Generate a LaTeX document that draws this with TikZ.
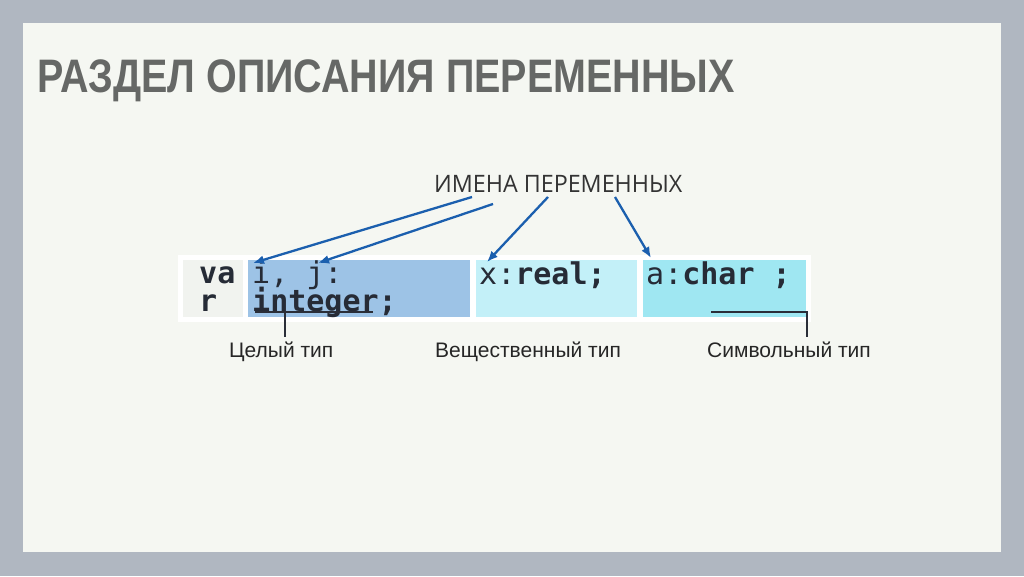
\documentclass[tikz,border=0pt]{standalone}
\usepackage{fontspec}
\usepackage{graphicx}
\setmainfont{Liberation Sans}
\newfontfamily\codefont{DejaVu Sans Mono}
\newfontfamily\labfont{Open Sans}
\usetikzlibrary{arrows.meta}
\definecolor{outerbg}{HTML}{B0B7C1}
\definecolor{panelbg}{HTML}{F5F7F2}
\definecolor{titlegray}{HTML}{666866}
\definecolor{varcell}{HTML}{F1F3EF}
\definecolor{intcell}{HTML}{9DC3E6}
\definecolor{realcell}{HTML}{C3F0F8}
\definecolor{charcell}{HTML}{9FE7F2}
\definecolor{codetext}{HTML}{262B36}
\definecolor{arrowblue}{HTML}{1B5FAE}
\definecolor{linedark}{HTML}{2A2E38}
\begin{document}
\begin{tikzpicture}[x=1pt,y=-1pt,
  code/.style={inner sep=0pt,anchor=base west,font=\codefont\fontsize{30}{30}\selectfont,text=codetext},
  boldcode/.style={code,font=\codefont\bfseries\fontsize{30}{30}\selectfont},
  lab/.style={inner sep=0pt,anchor=base west,font=\fontsize{21}{21}\selectfont,text=black!85},
  namearrow/.style={draw=arrowblue,line width=2.3pt,-{Latex[length=11pt,width=9pt]}},
  typeline/.style={draw=linedark,line width=1.3pt}]
\useasboundingbox (0,0) rectangle (1024,576);
\fill[outerbg] (0,0) rectangle (1024,576);
\fill[panelbg] (23,23) rectangle (1001,552);
% title
\node[inner sep=0pt,anchor=base west,text=titlegray,font=\fontsize{47}{47}\selectfont\bfseries] (title) at (37,92) {\scalebox{0.84}[1]{РАЗДЕЛ ОПИСАНИЯ ПЕРЕМЕННЫХ}};
% code box
\fill[white] (178,255) rectangle (811,322);
\fill[varcell] (183,260) rectangle (243,317);
\fill[intcell] (248,260) rectangle (470,317);
\fill[realcell] (476,260) rectangle (637,317);
\fill[charcell] (643,260) rectangle (806,317);
\node[boldcode] (va) at (199,283) {va};
\node[boldcode] (r) at (199,311) {r};
\node[code] (ij) at (252,283) {i, j:};
\node[boldcode] (integer) at (252,311) {integer;};
\node[code] (xreal) at (479,284) {x:\textbf{real;}};
\node[code] (achar) at (646,284) {a:\textbf{char ;}};
% names label
\node[inner sep=0pt,anchor=base west,font=\labfont\fontsize{24}{24}\selectfont,text=black!80] (names) at (434,192) {\scalebox{0.97}[1]{ИМЕНА ПЕРЕМЕННЫХ}};
\coordinate (s1) at (472,197);
\coordinate (s2) at (493,204);
\coordinate (s3) at (548,197);
\coordinate (s4) at (615,197);
\coordinate (e1) at (253,263);
\coordinate (e2) at (318,263);
\coordinate (e3) at (487,262);
\coordinate (e4) at (651,258);
\draw[namearrow] (s1) -- (e1);
\draw[namearrow] (s2) -- (e2);
\draw[namearrow] (s3) -- (e3);
\draw[namearrow] (s4) -- (e4);
% type labels
\node[lab] (intlab) at (229,357) {Целый тип};
\node[lab] (reallab) at (435,357) {Вещественный тип};
\node[lab] (charlab) at (707,357) {Символьный тип};
\coordinate (u1) at (255,312);
\coordinate (u2) at (373,312);
\coordinate (ud) at (285,312);
\coordinate (ue) at (285,337);
\draw[typeline] (u1) -- (u2);
\draw[typeline] (ud) -- (ue);
\coordinate (c1) at (711,312);
\coordinate (c2) at (807,312);
\coordinate (ce) at (807,337);
\draw[typeline] (c1) -- (c2) -- (ce);
\end{tikzpicture}
\end{document}
